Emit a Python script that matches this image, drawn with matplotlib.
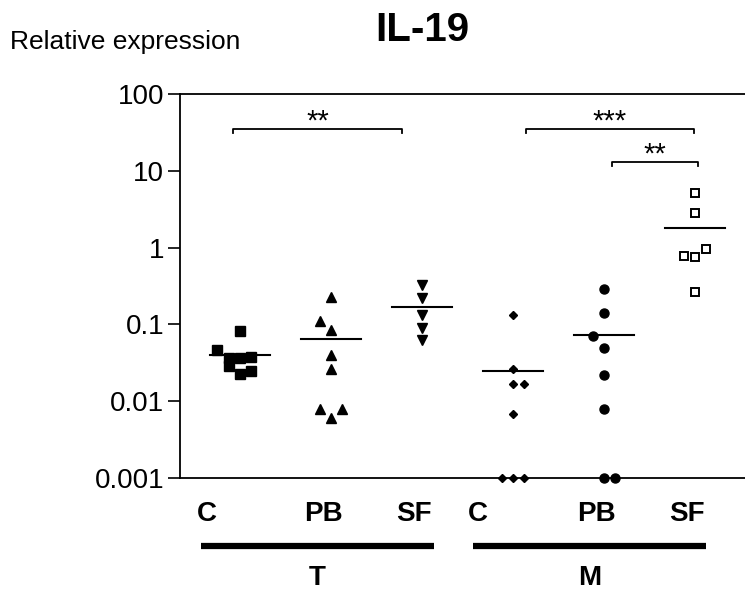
import numpy as np
import matplotlib
matplotlib.use('Agg')
import matplotlib.pyplot as plt

plt.rcParams['font.family'] = ['Liberation Sans', 'DejaVu Sans']

# relative expression per group (log scale, 0.001 = not detected)
t_c = [0.082, 0.047, 0.037, 0.036, 0.038, 0.0285, 0.0224, 0.0245]
t_pb = [0.23, 0.110, 0.085, 0.040, 0.026, 0.0078, 0.0078, 0.0060]
t_sf = [0.33, 0.224, 0.131, 0.091, 0.062]
m_c = [0.131, 0.026, 0.0165, 0.0165, 0.0069, 0.001, 0.001, 0.001]
m_pb = [0.29, 0.139, 0.0705, 0.049, 0.0222, 0.0078, 0.001, 0.001]
m_sf = [5.2, 2.82, 0.77, 0.75, 0.96, 0.262]

groups = [t_c, t_pb, t_sf, m_c, m_pb, m_sf]
group_labels = ['C', 'PB', 'SF', 'C', 'PB', 'SF']
tissue_labels = ['T', 'M']
yticks = [0.001, 0.01, 0.1, 1, 10, 100]
ytick_labels = ['0.001', '0.01', '0.1', '1', '10', '100']
# (x from, x to, y, text)
brackets = [(0.923, 2.78, 35, '**'), (4.143, 5.989, 35, '***'),
            (5.088, 6.033, 13.1, '**')]

# horizontal scatter of the points around each group centre
jitter = [
    [0, -0.25, -0.125, 0, 0.125, -0.125, 0, 0.125],
    [0, -0.125, 0, 0, 0, -0.125, 0.125, 0],
    [0, 0, 0, 0, 0],
    [0, 0, 0, 0.125, 0, -0.125, 0, 0.125],
    [0, 0, -0.125, 0, 0, 0, 0, 0.125],
    [0, 0, -0.125, 0, 0.125, 0],
]
styles = [
    dict(marker='s', ms=7.5, mfc='black', mec='black'),
    dict(marker='^', ms=6.5, mfc='black', mec='black'),
    dict(marker='v', ms=6.5, mfc='black', mec='black'),
    dict(marker='D', ms=3.8, mfc='black', mec='black'),
    dict(marker='o', ms=6.5, mfc='black', mec='black'),
    dict(marker='s', ms=6.2, mfc='white', mec='black', mew=1.4),
]

W, H = 745, 594
fig = plt.figure(figsize=(W/100, H/100), dpi=100)
ax = fig.add_axes([180/W, (H-478)/H, 1-180/W, (478-94)/H])

for i, (vals, offs, st) in enumerate(zip(groups, jitter, styles)):
    x = i + 1
    ax.plot(x + np.array(offs), vals, ls='none', clip_on=False, zorder=3, **st)
    ax.plot([x-0.335, x+0.335], [np.mean(vals)]*2, color='black', lw=1.5,
            zorder=2)

for x0, x1, y, txt in brackets:
    yd = y*0.88
    ax.plot([x0, x0, x1, x1], [yd, y, y, yd], color='black', lw=1.3)
    ax.text((x0+x1)/2, y*0.97, txt, ha='center', va='baseline', fontsize=21)

ax.set_yscale('log')
ax.set_ylim(0.001, 100)
ax.set_xlim(1-60/91, 1+(W-240)/91)
ax.set_yticks(yticks)
ax.set_yticklabels(ytick_labels)
ax.yaxis.set_minor_locator(matplotlib.ticker.NullLocator())
ax.set_xticks([])
ax.tick_params(axis='y', length=8.5, width=1.2, labelsize=20, pad=3)
for s in ['left', 'top', 'bottom']:
    ax.spines[s].set_linewidth(1.3)
ax.spines['right'].set_visible(False)

# category labels below the axis
for xp, lab in zip([207, 323, 414, 478, 596, 687], group_labels):
    fig.text(xp/W, 1-514/H, lab, ha='center', va='center', fontsize=20,
             fontweight='bold')
for (xa, xb), lab in zip([(201, 434), (473, 706)], tissue_labels):
    fig.add_artist(plt.Line2D([xa/W, xb/W], [1-546/H]*2, color='black',
                              lw=4.5, solid_capstyle='butt'))
    fig.text((xa+xb)/2/W, 1-578/H, lab, ha='center', va='center',
             fontsize=20, fontweight='bold')

fig.text(10/W, 1-42/H, 'Relative expression', ha='left', va='center',
         fontsize=19)
fig.text(422/W, 1-30/H, 'IL-19', ha='center', va='center', fontsize=29,
         fontweight='bold')

fig.savefig('out.png', dpi=100)
